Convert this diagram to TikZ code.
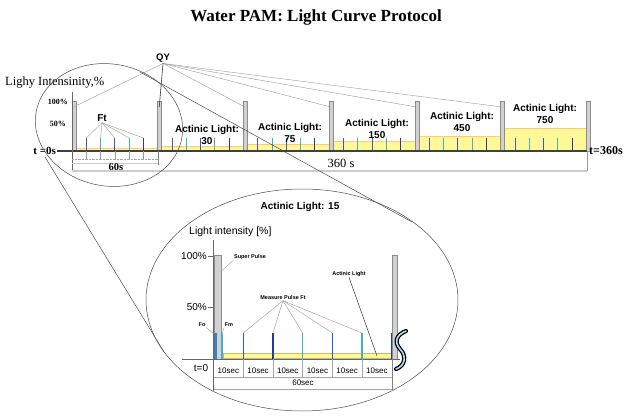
\documentclass[tikz,border=0pt]{standalone}
\usepackage{fontspec}
\setmainfont{Liberation Serif}
\setsansfont{Liberation Sans}
\usetikzlibrary{positioning}

\definecolor{pulseblue}{RGB}{40,95,205}
\definecolor{pulseteal}{RGB}{70,175,200}
\definecolor{pulsedark}{RGB}{30,60,165}
\definecolor{lampyel}{RGB}{255,248,150}

\tikzset{
  lampbar/.style={draw=black!45, fill=black!18, line width=0.6pt},
  yel/.style={fill=lampyel},
  pulse/.style={line width=1.2pt, color=pulseblue},
  leader/.style={draw=black!40, line width=0.4pt},
  dimline/.style={draw=black!20, line width=1.2pt},
  acl/.style={font=\fontsize{10}{12}\selectfont\sffamily\bfseries, align=center},
  tinylbl/.style={font=\fontsize{5.5}{6}\selectfont\sffamily\bfseries, inner sep=0.5pt},
}

\begin{document}
\begin{tikzpicture}[x=1pt, y=-1pt]
  \useasboundingbox (0,0) rectangle (633,418);

  \newcommand\SEG{85.75}
  \newcommand\TEN{14.29}
  \newcommand\BTEN{29.7}

  \node[font=\fontsize{17}{20}\selectfont\bfseries] (title) at (316,17) {Water PAM: Light Curve Protocol};

  % top time line, six steps of 60 s
  \foreach \k/\h in {0/148,1/146,2/144.5,3/141,4/136,5/128}{
    \pgfmathsetmacro\xa{72+\SEG*\k}
    \fill[yel] (\xa+4,\h) rectangle (\xa+\SEG,151);
    \draw[orange!45, line width=0.6pt] (\xa+4,\h) -- (\xa+\SEG,\h);
    \foreach \j/\col in {1/pulseblue,2/pulseteal,3/pulseblue,4/pulseteal,5/pulsedark}
      \draw[pulse, line width=1pt, color=\col] (\xa+\TEN*\j,151) -- ++(0,-13) coordinate (t\k\j);
  }
  \foreach \k in {0,...,6}{
    \pgfmathsetmacro\xa{72+\SEG*\k}
    \draw[lampbar] (\xa,101) rectangle (\xa+4,151);
    \coordinate (b\k) at (\xa+1.5,107);
  }

  \coordinate (axs) at (57,151);
  \coordinate (axe) at (587,151);
  \draw[black!75, line width=1.1pt] (axs) -- (axe);
  \node[left=0pt of axs, font=\fontsize{11}{12}\selectfont\bfseries, inner sep=1pt] (tzero) {t =0s};
  \node[right=1pt of axe, font=\fontsize{12}{13}\selectfont\bfseries, inner sep=1pt] (tend) {t=360s};

  \draw[black!60, line width=0.8pt] (72,92) -- (72,171);
  \node[anchor=east, font=\fontsize{8}{9}\selectfont\bfseries, inner sep=1pt] (p100) at (69,102) {100\%};
  \node[anchor=east, font=\fontsize{8}{9}\selectfont\bfseries, inner sep=1pt] (p50) at (67,124) {50\%};
  \node[anchor=west, font=\fontsize{12.5}{14}\selectfont, inner sep=0pt] (ylab) at (5,83) {Lighy Intensinity,\%};

  % 60 s and 360 s below the axis
  \draw[black!35, densely dotted] (72,159) -- (158,159);
  \foreach \j in {1,...,5}
    \draw[black!40, line width=0.4pt] (72+\TEN*\j,151) -- (72+\TEN*\j,159);
  \draw[black!50] (158,151) -- (158,165);
  \draw[dimline] (72,163.5) -- (158,163.5);
  \node[font=\fontsize{10.5}{12}\selectfont\bfseries] (d60) at (116,167) {60s};
  \draw[dimline] (72,171) -- (587,171);
  \draw[black!40] (587,151) -- (587,171);
  \node[font=\fontsize{12.5}{14}\selectfont] (d360) at (341,163) {360 s};

  \node[font=\fontsize{9.5}{10}\selectfont\sffamily\bfseries, inner sep=1pt] (qy) at (163,58) {QY};
  \foreach \k in {0,2,3,4,5}
    \draw[leader] (qy.south) -- (b\k);
  \draw[black!80, line width=0.6pt] (qy.south) -- (b1);

  \node[font=\fontsize{10}{11}\selectfont\sffamily\bfseries, inner sep=1pt] (ft) at (102,118) {Ft};
  \foreach \j in {1,...,5}
    \draw[leader] (ft.south) -- (t0\j);

  \node[acl] (al30) at (207,135) {Actinic Light:\\30};
  \node[acl] (al75) at (290,133) {Actinic Light:\\75};
  \node[acl] (al150) at (377,129) {Actinic Light:\\150};
  \node[acl] (al450) at (462,122) {Actinic Light:\\450};
  \node[acl] (al750) at (545,114) {Actinic Light:\\750};

  % zoom
  \draw[black!70, line width=0.5pt, rotate around={-10:(109,125)}] (109,125) ellipse [x radius=74, y radius=61];
  \draw[black!70, line width=0.5pt] (302,300) ellipse [x radius=156, y radius=111];
  \coordinate (z1) at (45,157);
  \coordinate (z2) at (164,352);
  \coordinate (z3) at (140,72);
  \coordinate (z4) at (412,222);
  \draw[black!70, line width=0.5pt] (z1) -- (z2);
  \draw[black!70, line width=0.5pt] (z3) -- (z4);

  % first step in detail
  \node[acl] (al15) at (300,207) {Actinic Light: 15};
  \node[anchor=west, font=\fontsize{10.5}{12}\selectfont\sffamily, inner sep=0pt] (ylab2) at (189,232) {Light intensity [\%]};
  \draw[black!60, line width=0.6pt] (213.5,240) -- (213.5,391);
  \draw[black!60] (208,256) -- (213.5,256);
  \draw[black!60] (208,307) -- (213.5,307);
  \node[anchor=east, font=\fontsize{10}{12}\selectfont\sffamily, inner sep=1pt] (q100) at (208,256) {100\%};
  \node[anchor=east, font=\fontsize{10}{12}\selectfont\sffamily, inner sep=1pt] (q50) at (208,307) {50\%};

  \draw[fill=lampyel, draw=black!40!yellow!70] (223,353) rectangle (391,358.5);
  \draw[lampbar] (214,255) rectangle (221,359);
  \draw[lampbar] (392.5,255) rectangle (397.5,359);
  \fill[pulseteal!60!pulsedark] (213.5,333) rectangle (216.5,359);
  \draw[pulse, color=pulseteal] (222,333) -- (222,359);
  \draw[pulse, color=pulsedark] (391.3,333) -- (391.3,359);
  \foreach \j/\col in {1/pulseblue,2/pulsedark,3/pulseteal,4/pulseblue,5/pulseteal}
    \draw[pulse, color=\col] (213.5+\BTEN*\j,359) -- ++(0,-26) coordinate (m\j);

  \coordinate (bxs) at (182,359);
  \coordinate (bxe) at (400,359);
  \draw[black!60, line width=0.9pt] (bxs) -- (bxe);
  \node[font=\fontsize{10}{12}\selectfont\sffamily] (t0) at (201,368) {t=0};

  \foreach \j in {1,...,5}
    \draw[black!35, line width=0.4pt] (213.5+\BTEN*\j,359) -- ++(0,18);
  \foreach \j in {1,...,6}
    \node[font=\fontsize{8}{9}\selectfont\sffamily] (s\j) at (213.5+\BTEN*\j-\BTEN/2,370.5) {10sec};
  \draw[black!35] (213.5,377) -- (392,377);
  \draw[black!35] (213.5,389) -- (392,389);
  \draw[black!50] (392,359) -- (392,391);
  \node[font=\fontsize{8}{9}\selectfont\sffamily] (s60) at (303,383) {60sec};

  \node[tinylbl] (sp) at (250,257) {Super Pulse};
  \coordinate (spb) at (220.5,272);
  \draw[leader] (spb) -- (sp.south west);
  \node[tinylbl] (mp) at (283,298) {Measure Pulse Ft};
  \foreach \j in {1,...,5}
    \draw[leader] (mp.south) -- (m\j);
  \node[tinylbl] (alt) at (349,274) {Actinic Light};
  \coordinate (altb) at (377,356);
  \draw[black!80, line width=0.5pt] (alt.south) -- (altb);
  \node[tinylbl] (fo) at (202,325) {Fo};
  \coordinate (fob) at (214,334);
  \draw[leader] (fo.south east) -- (fob);
  \node[tinylbl] (fm) at (229,325) {Fm};
  \coordinate (fmb) at (222,334);
  \draw[leader] (fm.south west) -- (fmb);

  % break mark
  \draw[line width=1.3pt, double=cyan!35, double distance=1.6pt, line cap=round]
    (406,331) .. controls (396,335) and (394,342) .. (400,349)
    .. controls (407,356) and (405,366) .. (396,369);

\end{tikzpicture}
\end{document}
